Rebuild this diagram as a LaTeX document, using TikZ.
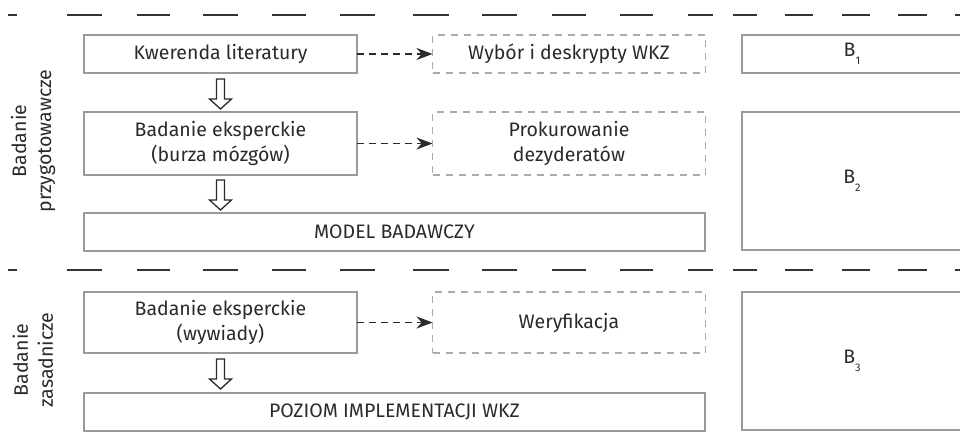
\documentclass[tikz,border=0pt]{standalone}
\usepackage{fontspec}
\setmainfont{Fira Sans}
\usetikzlibrary{arrows.meta,calc}
\definecolor{txt}{HTML}{2A2A2A}
\definecolor{boxgray}{HTML}{9A9A9A}
\definecolor{dashgray}{HTML}{ABABAB}
\definecolor{sepline}{HTML}{333333}
\newcommand{\bsub}[1]{B\raisebox{-0.4em}{\fontsize{11}{11}\selectfont #1}}
\begin{document}
\begin{tikzpicture}[x=1pt,y=-1pt,
  every node/.style={text=txt, font=\fontsize{19.5}{25}\selectfont, align=center, inner sep=0pt, outer sep=0pt},
  solidbox/.style={draw=boxgray, line width=2pt},
  dashbox/.style={draw=dashgray, line width=1.8pt, dash pattern=on 7pt off 6pt},
  dasharrow/.style={draw=txt, line width=1.7pt, dash pattern=on 7pt off 5pt, -{Stealth[length=16pt,width=12pt]}},
  blockline/.style={draw=txt, line width=1.3pt, line join=miter, fill=white},
  sepdash/.style={draw=sepline, line width=1.5pt},
  pics/blockarr/.style={code={\draw[blockline] (-4,0) -- (-4,20) -- (-11,20) -- (0,30) -- (11,20) -- (4,20) -- (4,0) -- cycle;}}
]
\useasboundingbox (0,0) rectangle (960,444);

% separator dashed lines
\foreach \a/\b in {8/17,67/102,137/170,203/238,272/306,340/375,413/449,482/517,552/586,620/653,688/713,733/757,785/813,842/870,898/927,955/962}{
  \draw[sepdash] (\a,15) -- (\b,15);
  \draw[sepdash] (\a,270) -- (\b,270);
}

% left labels
\node[rotate=90] (lab1) at (33,141) {Badanie\\przygotowawcze};
\node[rotate=90] (lab2) at (33,360) {Badanie\\zasadnicze};

% column 1
\node[solidbox, minimum width=273pt, minimum height=38pt] (kw) at (220.5,54) {Kwerenda literatury};
\node[solidbox, minimum width=273pt, minimum height=63pt] (be1) at (220.5,143.5) {Badanie eksperckie\\(burza mózgów)};
\node[solidbox, minimum width=621pt, minimum height=38pt] (mb) at (394.5,232) {MODEL BADAWCZY};
\node[solidbox, minimum width=273pt, minimum height=61pt] (be2) at (220.5,322.5) {Badanie eksperckie\\(wywiady)};
\node[solidbox, minimum width=621pt, minimum height=38pt] (pi) at (394.5,411.5) {POZIOM IMPLEMENTACJI WKZ};

% column 2 (dashed)
\node[dashbox, minimum width=273pt, minimum height=38pt] (wy) at (569,54) {Wybór i deskrypty WKZ};
\node[dashbox, minimum width=273pt, minimum height=63pt] (pr) at (569,143.5) {Prokurowanie\\dezyderatów};
\node[dashbox, minimum width=273pt, minimum height=61pt] (we) at (569,322.5) {Weryfikacja};

% column 3
\node[solidbox, minimum width=220pt, minimum height=38pt] (b1) at (852,54) {\bsub{1}};
\node[solidbox, minimum width=220pt, minimum height=138pt] (b2) at (852,181) {\bsub{2}};
\node[solidbox, minimum width=220pt, minimum height=138pt] (b3) at (852,361) {\bsub{3}};

% dashed arrows
\draw[dasharrow] (kw.east) -- (wy.west);
\draw[dasharrow] (be1.east) -- (pr.west);
\draw[dasharrow] (be2.east) -- (we.west);

% block arrows
\pic at ($(kw.south)+(0,6)$) {blockarr};
\pic at ($(be1.south)+(0,5)$) {blockarr};
\pic at ($(be2.south)+(0,6)$) {blockarr};
\end{tikzpicture}
\end{document}
